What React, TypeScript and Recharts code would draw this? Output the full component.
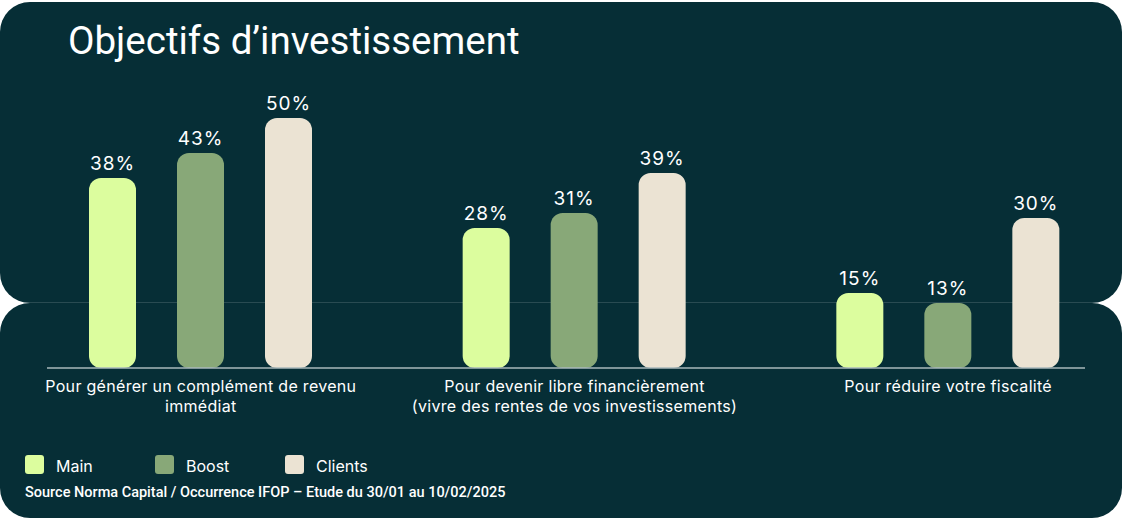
import { Bar, BarChart, LabelList, XAxis, YAxis } from "recharts";

const categories = [
  ["Pour générer un complément de revenu", "immédiat"],
  ["Pour devenir libre financièrement", "(vivre des rentes de vos investissements)"],
  ["Pour réduire votre fiscalité"],
];
const mainValues = [38, 28, 15];
const boostValues = [43, 31, 13];
const clientValues = [50, 39, 30];

const series = [
  { key: "main", name: "Main", color: "#dcfd9e" },
  { key: "boost", name: "Boost", color: "#88a878" },
  { key: "clients", name: "Clients", color: "#ebe3d3" },
];

const data = categories.map((lines, i) => ({
  name: lines.join(" "),
  lines,
  main: mainValues[i],
  boost: boostValues[i],
  clients: clientValues[i],
}));

const BG = "#062e36";
const labelFont = "Inter, 'Noto Sans', sans-serif";

function CategoryTick({ x, y, payload }: any) {
  const lines: string[] = data[payload.index]?.lines ?? [payload.value];
  return (
    <text x={x} y={y} textAnchor="middle" fill="#ffffff" fontSize={16} letterSpacing={0.3} fontFamily={labelFont}>
      {lines.map((line, i) => (
        <tspan key={i} x={x} dy={i === 0 ? 24 : 20}>
          {line}
        </tspan>
      ))}
    </text>
  );
}

export default function App() {
  return (
    <div style={{ position: "absolute", left: 0, top: 0, width: 1122, height: 520, background: "#ffffff", overflow: "hidden" }}>
      <div style={{ position: "absolute", left: 0, top: 2, width: 1122, height: 301, borderRadius: 30, background: BG }} />
      <div style={{ position: "absolute", left: 0, top: 303, width: 1122, height: 215, borderRadius: 30, background: BG }} />
      <div style={{ position: "absolute", left: 0, top: 302, width: 1122, height: 1, background: "rgba(255,255,255,0.14)" }} />

      <div
        style={{
          position: "absolute",
          left: 68,
          top: 17,
          color: "#ffffff",
          fontFamily: "Roboto, sans-serif",
          fontSize: 38.5,
          lineHeight: "48px",
          whiteSpace: "nowrap",
        }}
      >
        Objectifs d’investissement
      </div>

      <div style={{ position: "absolute", left: 0, top: 0 }}>
        <BarChart
          width={1122}
          height={520}
          data={data}
          margin={{ top: 118, right: 37, bottom: 92, left: 47 }}
          barSize={47}
          barGap={41}
        >
          <XAxis
            dataKey="name"
            height={60}
            padding={{ left: -33, right: -50 }}
            axisLine={{ stroke: "#a9b8bb", strokeWidth: 1.5 }}
            tickLine={false}
            tickSize={0}
            tickMargin={0}
            interval={0}
            tick={<CategoryTick />}
          />
          <YAxis hide domain={[0, 50]} />
          {series.map((s) => (
            <Bar key={s.key} dataKey={s.key} name={s.name} fill={s.color} radius={[12, 12, 12, 12]} isAnimationActive={false}>
              <LabelList
                dataKey={s.key}
                position="top"
                offset={8}
                fill="#ffffff"
                fontSize={19}
                fontFamily={labelFont}
                letterSpacing={1}
                formatter={(v: any) => `${v}%`}
              />
            </Bar>
          ))}
        </BarChart>
      </div>

      {series.map((s, i) => (
        <div
          key={s.key}
          style={{
            position: "absolute",
            left: 25 + i * 130,
            top: 452,
            display: "flex",
            alignItems: "center",
            color: "#ffffff",
            fontFamily: labelFont,
            fontSize: 16,
          }}
        >
          <span style={{ width: 19, height: 19, borderRadius: 3, background: s.color, display: "inline-block", marginRight: 12 }} />
          <span style={{ marginTop: 4 }}>{s.name}</span>
        </div>
      ))}

      <div
        style={{
          position: "absolute",
          left: 25,
          top: 484,
          color: "#ffffff",
          fontFamily: "Roboto, sans-serif",
          fontWeight: 500,
          fontSize: 14.5,
          whiteSpace: "nowrap",
        }}
      >
        Source Norma Capital / Occurrence IFOP – Etude du 30/01 au 10/02/2025
      </div>
    </div>
  );
}
